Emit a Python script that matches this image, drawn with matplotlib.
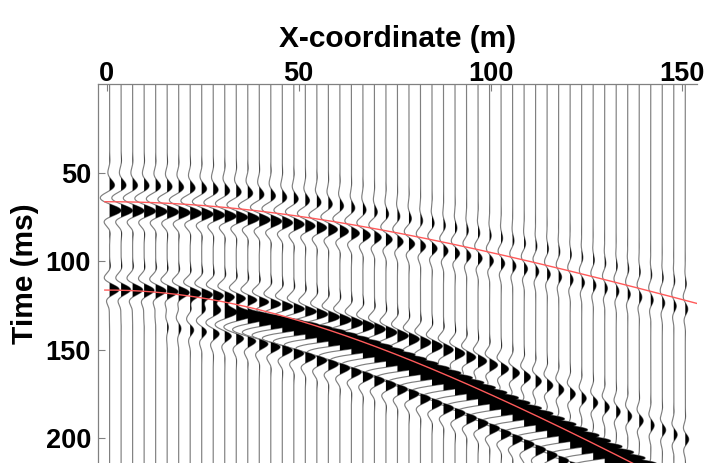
import numpy as np
import matplotlib.pyplot as plt

plt.rcParams["font.family"] = ["Liberation Sans", "DejaVu Sans"]
plt.rcParams["font.weight"] = "bold"

# receiver positions (m), one wiggle trace each
trace_x = np.arange(0.75, 151.0, 3.0)

# picked event curves: zero-offset time (ms) and velocity (m/ms)
red1_t0, red1_v = 66.5, 1.47
red2_t0, red2_v = 116.4, 0.762
evc_t0, evc_v = 116.0, 0.92

# wavelet peak delay relative to the picked red curves (ms)
lag_a = 5.0
lag_d = 5.0
lag_e = 19.0

# peak amplitude of each event per trace (in trace spacings)
amp_a = [1.0, 1.0, 1.0, 1.0, 1.0, 1.0, 1.0, 1.0, 1.0, 1.0,
         1.0, 1.0, 1.0, 0.95, 0.95, 0.9, 0.9, 0.85, 0.85, 0.8,
         0.75, 0.7, 0.65, 0.6, 0.55, 0.5, 0.5, 0.45, 0.45, 0.4,
         0.4, 0.38, 0.36, 0.34, 0.32, 0.3, 0.3, 0.28, 0.28, 0.26,
         0.26, 0.25, 0.25, 0.24, 0.24, 0.23, 0.23, 0.22, 0.22, 0.22, 0.22]
amp_c = [0.85, 0.85, 0.9, 0.9, 0.95, 1.0, 1.0, 1.05, 1.1, 1.1,
         1.1, 1.1, 1.1, 1.1, 1.1, 1.1, 1.05, 1.05, 1.0, 1.0,
         1.0, 1.0, 1.0, 0.95, 0.95, 0.95, 0.9, 0.9, 0.9, 0.85,
         0.85, 0.8, 0.75, 0.7, 0.65, 0.6, 0.55, 0.5, 0.5, 0.45,
         0.45, 0.4, 0.4, 0.4, 0.35, 0.35, 0.35, 0.3, 0.3, 0.3, 0.3]
amp_d = [0.15, 0.15, 0.15, 0.2, 0.25, 0.3, 0.4, 0.55, 0.8, 1.1,
         1.5, 2.0, 2.5, 2.8, 3.1, 3.3, 3.4, 3.5, 3.5, 3.5] + [3.5] * 31
amp_e = [0.0, 0.0, 0.0, 0.0, 0.0, 0.1, 0.2, 0.3, 0.4, 0.5,
         0.55, 0.6, 0.65, 0.7, 0.75] + [0.8] * 36

x_ticks = [0, 50, 100, 150]
y_ticks = [50, 100, 150, 200]


def hyperbola(x, t0, v):
    return np.sqrt(t0 ** 2 + (x / v) ** 2)


def wavelet(tau, sig_before, sig_after=8.0, period=15.0):
    # asymmetric gaussian-tapered cosine
    env = np.where(tau < 0, np.exp(-(tau / sig_before) ** 2),
                   np.exp(-(tau / sig_after) ** 2))
    return np.cos(2 * np.pi * tau / period) * env


def main() -> None:
    fig = plt.figure(figsize=(7.09, 4.63), dpi=100)
    ax = fig.add_axes([98 / 709, 0.0, 599 / 709, 379 / 463])

    t = np.arange(0.0, 216.0, 0.25)
    spacing = 3.0
    for k, x0 in enumerate(trace_x):
        ta = hyperbola(x0, red1_t0, red1_v) + lag_a
        tc = hyperbola(x0, evc_t0, evc_v)
        td = hyperbola(x0, red2_t0, red2_v) + lag_d
        te = hyperbola(x0, red2_t0, red2_v) + lag_e
        s = (amp_a[k] * wavelet(t - ta, 16.0)
             + amp_c[k] * wavelet(t - tc, 9.0)
             + amp_d[k] * wavelet(t - td, 6.0, 9.0, 18.0)
             + amp_e[k] * wavelet(t - te, 7.0))
        xs = x0 + s * spacing
        ax.plot(xs, t, color="0.5", lw=0.85, zorder=2)
        ax.fill_betweenx(t, x0, xs, where=s > 0, interpolate=True,
                         color="black", lw=0, zorder=3)

    xr = np.linspace(-0.5, 154.5, 300)
    ax.plot(xr, hyperbola(xr, red1_t0, red1_v), color="#ff5a5a", lw=1.0, zorder=4)
    ax.plot(xr, hyperbola(xr, red2_t0, red2_v), color="#ff5a5a", lw=1.0, zorder=4)

    ax.set_xlim(-2.27, 153.8)
    ax.set_ylim(214.1, 0)
    ax.xaxis.tick_top()
    ax.xaxis.set_label_position("top")
    ax.set_xticks(x_ticks)
    ax.set_yticks(y_ticks)
    ax.tick_params(axis="both", direction="in", length=5, color="0.5",
                   labelsize=19.5)
    ax.tick_params(axis="x", pad=-2)
    ax.tick_params(axis="y", pad=5)
    ax.set_xlabel("X-coordinate (m)", fontsize=21.5, fontweight="bold", labelpad=10)
    ax.set_ylabel("Time (ms)", fontsize=21.5, fontweight="bold", labelpad=4.5)
    for side in ("right", "bottom"):
        ax.spines[side].set_visible(False)
    for side in ("left", "top"):
        ax.spines[side].set_color("0.5")
        ax.spines[side].set_linewidth(0.9)

    fig.savefig("out.png", dpi=100)
    plt.close(fig)


if __name__ == "__main__":
    main()
